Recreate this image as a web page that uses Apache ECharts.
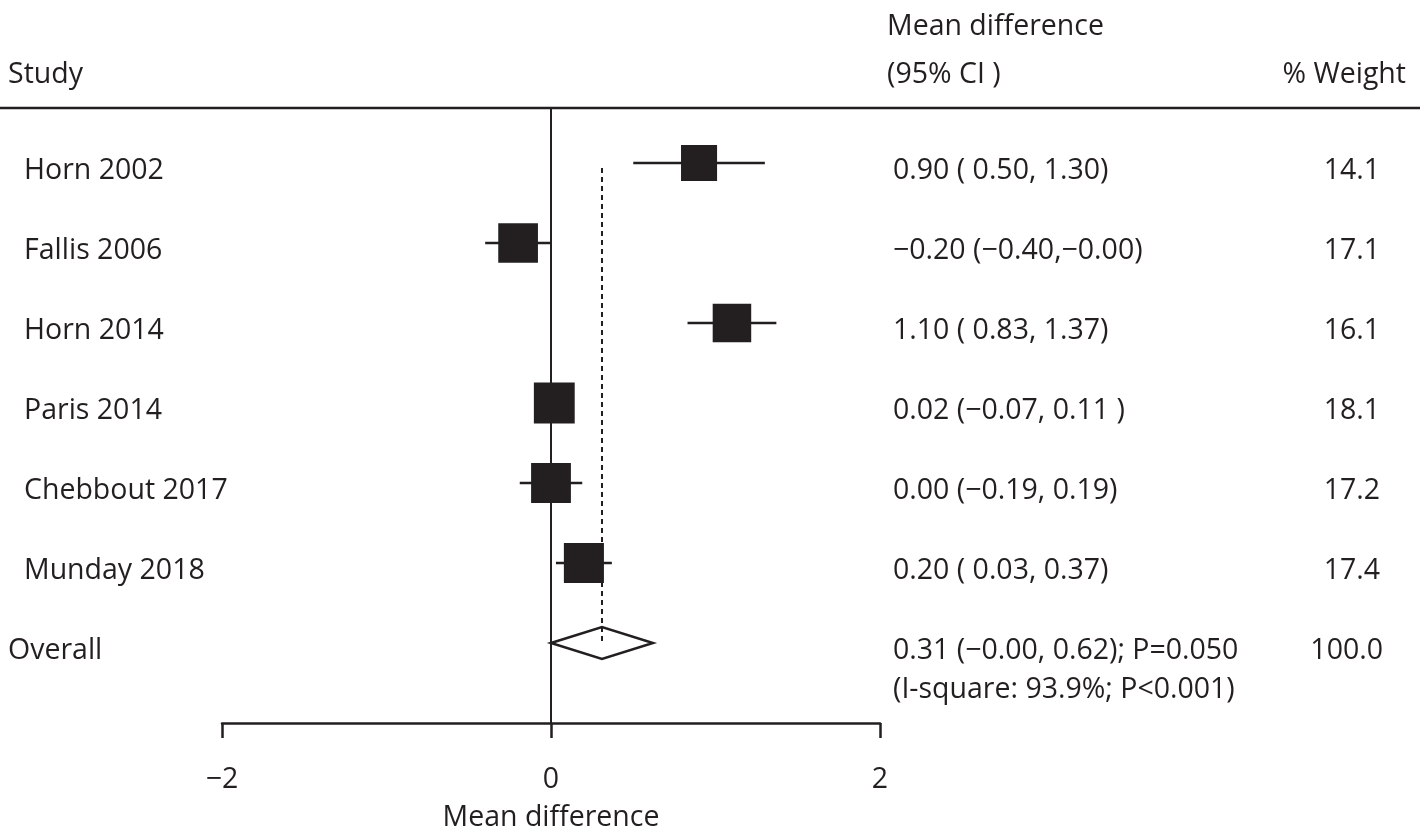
<!DOCTYPE html>
<html>
<head>
<meta charset="utf-8">
<script src="https://cdn.jsdelivr.net/npm/echarts@6/dist/echarts.min.js"></script>
<style>html,body{margin:0;padding:0;background:#fff;}#chart{width:1420px;height:828px;}</style>
</head>
<body>
<div id="chart"></div>
<script>
const studies = ['Horn 2002', 'Fallis 2006', 'Horn 2014', 'Paris 2014', 'Chebbout 2017', 'Munday 2018'];
const meanDiff = [0.90, -0.20, 1.10, 0.02, 0.00, 0.20];
const ciLow = [0.50, -0.40, 0.83, -0.07, -0.19, 0.03];
const ciHigh = [1.30, -0.00, 1.37, 0.11, 0.19, 0.37];
const weights = [14.1, 17.1, 16.1, 18.1, 17.2, 17.4];
const ciText = ['0.90 ( 0.50, 1.30)', '\u22120.20 (\u22120.40,\u22120.00)', '1.10 ( 0.83, 1.37)',
  '0.02 (\u22120.07, 0.11 )', '0.00 (\u22120.19, 0.19)', '0.20 ( 0.03, 0.37)'];
const weightText = ['14.1', '17.1', '16.1', '18.1', '17.2', '17.4'];
const overallLabel = 'Overall';
const overallMean = 0.31;
const overallLow = -0.00;
const overallHigh = 0.62;
const overallText = '0.31 (\u22120.00, 0.62); P=0.050';
const overallText2 = '(I-square: 93.9%; P<0.001)';
const overallWeight = '100.0';
const xTicks = [-2, 0, 2];

const INK = '#231f20';
const FONT = '"Open Sans", "Noto Sans", sans-serif';
const FS = 28.5;
const yMin = -0.6875, yMax = 7;

const chart = echarts.init(document.getElementById('chart'), null, {renderer: 'canvas'});

const textRows = studies.map((s, i) => ({name: s, ci: ciText[i], w: weightText[i], indent: true}));
textRows.push({name: overallLabel, ci: overallText, ci2: overallText2, w: overallWeight, indent: false});

function txt(t, x, y, align) {
  return {type: 'text', style: {text: t, x: x, y: y, fill: INK, fontSize: FS, fontFamily: FONT,
    align: align || 'left', verticalAlign: 'middle'}};
}

const option = {
  animation: false,
  backgroundColor: '#fff',
  grid: {left: 222, right: 540, top: 108, bottom: 105, containLabel: false, outerBoundsMode: 'none'},
  xAxis: {
    type: 'value', min: -2, max: 2, interval: 2,
    axisLine: {show: true, onZero: false, lineStyle: {color: INK, width: 2.5}},
    axisTick: {show: true, length: 15, lineStyle: {color: INK, width: 2.5}},
    splitLine: {show: false},
    axisLabel: {color: INK, fontSize: FS, fontFamily: FONT, margin: 42,
      formatter: v => (v < 0 ? '\u2212' + Math.abs(v) : String(v)),
      customValues: xTicks},
    name: 'Mean difference', nameLocation: 'middle', nameGap: 80,
    nameTextStyle: {color: INK, fontSize: FS, fontFamily: FONT}
  },
  yAxis: {type: 'value', min: yMin, max: yMax, inverse: true, show: false},
  graphic: [
    {type: 'line', shape: {x1: 0, y1: 108, x2: 1420, y2: 108}, style: {stroke: INK, lineWidth: 2.5}},
    {type: 'text', style: {text: 'Study', x: 8, y: 75, fill: INK, fontSize: FS, fontFamily: FONT, align: 'left', verticalAlign: 'middle'}},
    {type: 'text', style: {text: 'Mean difference', x: 887, y: 27, fill: INK, fontSize: FS, fontFamily: FONT, align: 'left', verticalAlign: 'middle'}},
    {type: 'text', style: {text: '(95% CI )', x: 887, y: 75, fill: INK, fontSize: FS, fontFamily: FONT, align: 'left', verticalAlign: 'middle'}},
    {type: 'text', style: {text: '% Weight', x: 1406, y: 75, fill: INK, fontSize: FS, fontFamily: FONT, align: 'right', verticalAlign: 'middle'}}
  ],
  series: [
    {
      type: 'line', data: [[0, yMin], [0, yMax]], symbol: 'none', silent: true,
      lineStyle: {color: INK, width: 2}
    },
    {
      type: 'line', data: [[overallMean, 0.0625], [overallMean, studies.length]], symbol: 'none', silent: true,
      lineStyle: {color: INK, width: 2, type: [5, 4]}
    },
    {
      type: 'custom', clip: false, silent: true,
      data: studies.map((s, i) => [meanDiff[i], ciLow[i], ciHigh[i], weights[i], i]),
      renderItem: function (params, api) {
        const row = api.value(4);
        const pLo = api.coord([api.value(1), row]);
        const pHi = api.coord([api.value(2), row]);
        const pM = api.coord([api.value(0), row]);
        const size = Math.sqrt(api.value(3)) * 9.6;
        return {type: 'group', children: [
          {type: 'line', shape: {x1: pLo[0], y1: pLo[1], x2: pHi[0], y2: pHi[1]}, style: {stroke: INK, lineWidth: 2.5}},
          {type: 'rect', shape: {x: pM[0] - size / 2, y: pM[1] - size / 2, width: size, height: size}, style: {fill: INK}}
        ]};
      }
    },
    {
      type: 'custom', clip: false, silent: true,
      data: [[overallMean, overallLow, overallHigh, studies.length]],
      renderItem: function (params, api) {
        const row = api.value(3);
        const a = api.coord([api.value(1), row]);
        const b = api.coord([api.value(0), row - 0.2]);
        const c = api.coord([api.value(2), row]);
        const d = api.coord([api.value(0), row + 0.2]);
        return {type: 'polygon', shape: {points: [a, b, c, d]}, style: {fill: '#fff', stroke: INK, lineWidth: 2.5}};
      }
    },
    {
      type: 'custom', clip: false, silent: true,
      data: textRows.map((r, i) => [0, i]),
      renderItem: function (params, api) {
        const row = api.value(1);
        const y = api.coord([0, row])[1] + 8;
        const r = textRows[params.dataIndex];
        const children = [
          txt(r.name, r.indent ? 24 : 8, y, 'left'),
          txt(r.ci, 893, y, 'left'),
          txt(r.w, r.indent ? 1380 : 1383, y, 'right')
        ];
        if (r.ci2) children.push(txt(r.ci2, 893, y + 39, 'left'));
        return {type: 'group', children: children};
      }
    }
  ]
};
chart.setOption(option);
</script>
</body>
</html>
